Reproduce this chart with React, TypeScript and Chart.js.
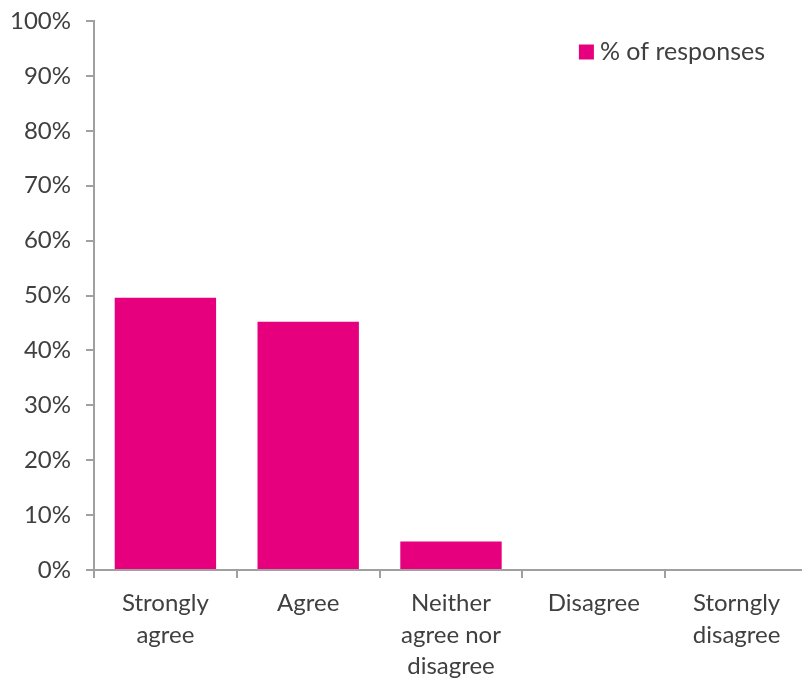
import React, { useEffect, useRef } from "react";
import { Chart, registerables } from "chart.js";

Chart.register(...registerables);

// Survey responses
const categories: (string | string[])[] = [
  ["Strongly", "agree"],
  "Agree",
  ["Neither", "agree nor", "disagree"],
  "Disagree",
  ["Storngly", "disagree"],
];
const seriesLabel = "% of responses";
const responses = [49.6, 45.2, 5.2, 0, 0];
const yTicks = [0, 10, 20, 30, 40, 50, 60, 70, 80, 90, 100];

const MAGENTA = "#E6007E";
const AXIS = "#A0A0A0";
const TEXT = "#404040";
const FONT = "Lato";

// Legend drawn in the top-right corner of the plot area
const insetLegend = {
  id: "insetLegend",
  afterDraw(chart: any) {
    const { ctx, chartArea } = chart;
    const ds = chart.data.datasets[0];
    ctx.save();
    ctx.font = `25px ${FONT}`;
    ctx.textBaseline = "middle";
    ctx.textAlign = "left";
    const text = ds.label as string;
    const w = ctx.measureText(text).width;
    const textX = chartArea.right - 43 - w;
    const midY = chartArea.top + 31;
    ctx.fillStyle = ds.backgroundColor;
    ctx.fillRect(textX - 21, midY - 7.5, 15, 15);
    ctx.fillStyle = TEXT;
    ctx.fillText(text, textX, midY);
    ctx.restore();
  },
};

export default function App() {
  const canvasRef = useRef<HTMLCanvasElement | null>(null);

  useEffect(() => {
    const canvas = canvasRef.current;
    if (!canvas) return;
    const chart = new Chart(canvas, {
      type: "bar",
      data: {
        labels: categories,
        datasets: [
          {
            label: seriesLabel,
            data: responses,
            backgroundColor: MAGENTA,
            borderWidth: 0,
            categoryPercentage: 0.71,
            barPercentage: 1,
          },
        ],
      },
      plugins: [insetLegend],
      options: {
        responsive: false,
        animation: false,
        layout: { padding: { top: 21, right: 2, left: 0, bottom: 0 } },
        plugins: {
          tooltip: { enabled: false },
          legend: { display: false },
        },
        scales: {
          x: {
            grid: {
              display: true,
              drawOnChartArea: false,
              drawTicks: true,
              tickLength: 8,
              color: AXIS,
              lineWidth: 2,
              offset: true,
            },
            border: { display: true, color: AXIS, width: 2 },
            ticks: {
              color: TEXT,
              font: { family: FONT, size: 24, lineHeight: 1.3 },
              padding: 10,
              maxRotation: 0,
              autoSkip: false,
            },
            afterFit: (s: any) => {
              s.height = 111;
            },
          },
          y: {
            min: 0,
            max: 100,
            afterBuildTicks: (s: any) => {
              s.ticks = yTicks.map((v) => ({ value: v }));
            },
            grid: {
              display: true,
              drawOnChartArea: false,
              drawTicks: true,
              tickLength: 8,
              color: AXIS,
              lineWidth: 2,
            },
            border: { display: true, color: AXIS, width: 2 },
            ticks: {
              color: TEXT,
              font: { family: FONT, size: 24 },
              padding: 15,
              callback: (v: any) => `${v}%`,
            },
            afterFit: (s: any) => {
              s.width = 94;
              s.paddingTop = 0;
              s.paddingBottom = 0;
            },
          },
        },
      },
    });
    return () => chart.destroy();
  }, []);

  return (
    <div
      style={{
        position: "fixed",
        left: 0,
        top: 0,
        width: 802,
        height: 681,
        overflow: "hidden",
        background: "#fff",
      }}
    >
      <canvas ref={canvasRef} width={810} height={681} style={{ display: "block" }} />
    </div>
  );
}
